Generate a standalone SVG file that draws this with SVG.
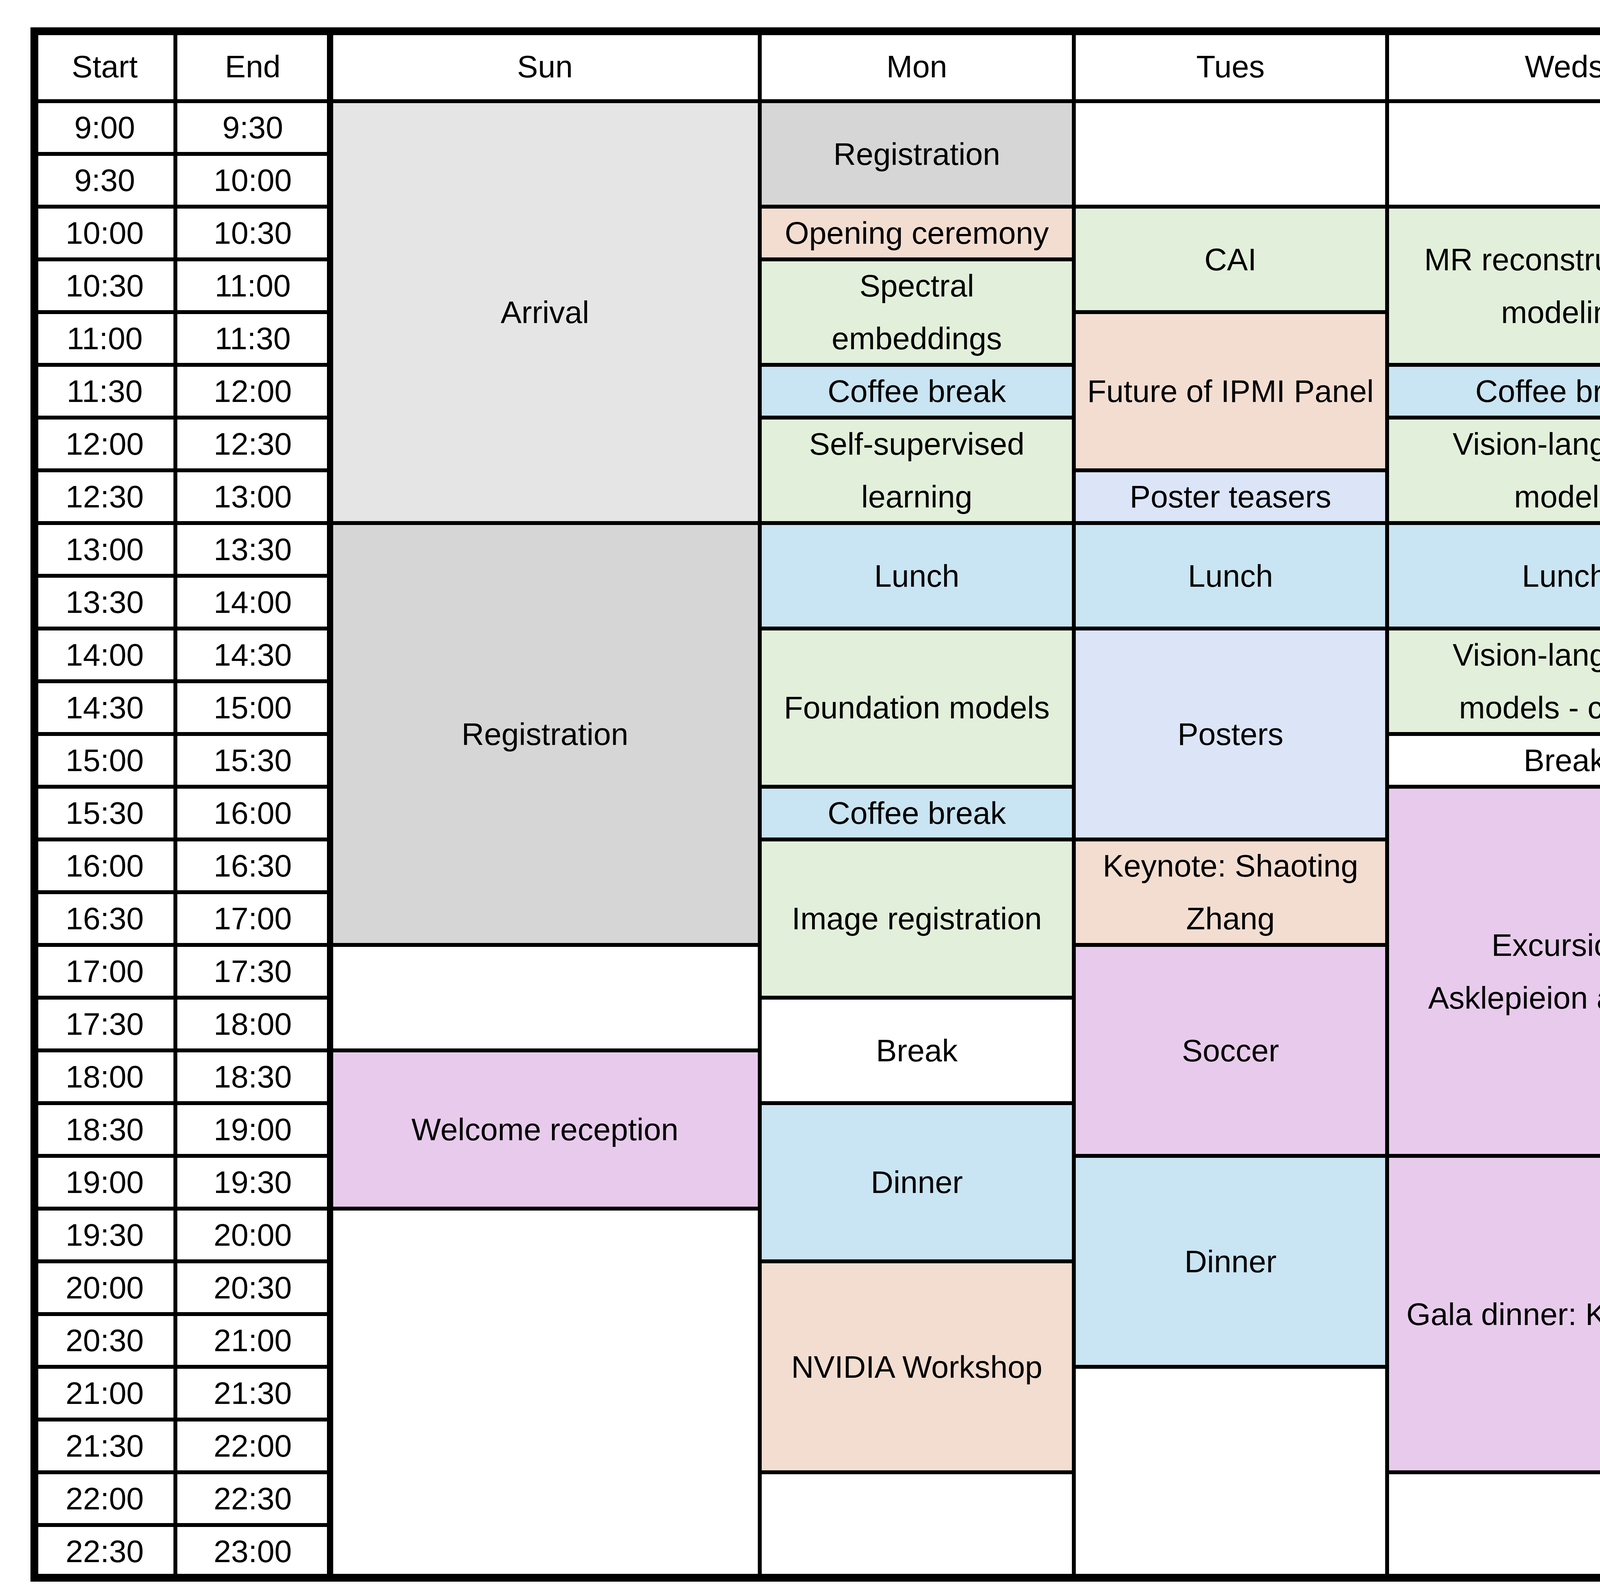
<svg xmlns="http://www.w3.org/2000/svg" width="6083" height="4055" viewBox="0 0 6083 4055">
<style>
rect{stroke:#000;stroke-width:10}
text{font-family:"Liberation Sans Narrow","Liberation Sans",Arial,sans-serif;font-size:80px;text-anchor:middle;dominant-baseline:central;fill:#000}
.w{fill:#fff}.g1{fill:#e5e5e5}.g2{fill:#d6d6d6}.gr{fill:#e2efda}.bl{fill:#c9e4f2}.pe{fill:#f3ddd1}.la{fill:#dce5f7}.pu{fill:#e8cbec}
</style>
<rect x="0" y="0" width="6083" height="4055" fill="#fff" style="stroke:none"/>
<g id="header">
<rect class="w" x="88" y="80" width="361" height="179"/><text x="268" y="170">Start</text>
<rect class="w" x="449" y="80" width="396" height="179"/><text x="647" y="170">End</text>
<rect class="w" x="845" y="80" width="1100" height="179"/><text x="1395" y="170">Sun</text>
<rect class="w" x="1945" y="80" width="804" height="179"/><text x="2347" y="170">Mon</text>
<rect class="w" x="2749" y="80" width="802" height="179"/><text x="3150" y="170">Tues</text>
<rect class="w" x="3551" y="80" width="909" height="179"/><text x="4005" y="170">Weds</text>
<rect class="w" x="4460" y="80" width="805" height="179"/><text x="4862" y="170">Thurs</text>
<rect class="w" x="5265" y="80" width="797" height="179"/><text x="5663" y="170">Fri</text>
</g>
<g id="times">
<path d="M88 394H845M88 529H845M88 664H845M88 799H845M88 934H845M88 1069H845M88 1204H845M88 1339H845M88 1474H845M88 1609H845M88 1744H845M88 1879H845M88 2014H845M88 2149H845M88 2284H845M88 2419H845M88 2554H845M88 2689H845M88 2824H845M88 2959H845M88 3094H845M88 3229H845M88 3364H845M88 3499H845M88 3634H845M88 3769H845M88 3904H845M449 259V4039" stroke="#000" stroke-width="10" fill="none"/>
<text x="268" y="326.5">9:00</text><text x="647" y="326.5">9:30</text>
<text x="268" y="461.5">9:30</text><text x="647" y="461.5">10:00</text>
<text x="268" y="596.5">10:00</text><text x="647" y="596.5">10:30</text>
<text x="268" y="731.5">10:30</text><text x="647" y="731.5">11:00</text>
<text x="268" y="866.5">11:00</text><text x="647" y="866.5">11:30</text>
<text x="268" y="1001.5">11:30</text><text x="647" y="1001.5">12:00</text>
<text x="268" y="1136.5">12:00</text><text x="647" y="1136.5">12:30</text>
<text x="268" y="1271.5">12:30</text><text x="647" y="1271.5">13:00</text>
<text x="268" y="1406.5">13:00</text><text x="647" y="1406.5">13:30</text>
<text x="268" y="1541.5">13:30</text><text x="647" y="1541.5">14:00</text>
<text x="268" y="1676.5">14:00</text><text x="647" y="1676.5">14:30</text>
<text x="268" y="1811.5">14:30</text><text x="647" y="1811.5">15:00</text>
<text x="268" y="1946.5">15:00</text><text x="647" y="1946.5">15:30</text>
<text x="268" y="2081.5">15:30</text><text x="647" y="2081.5">16:00</text>
<text x="268" y="2216.5">16:00</text><text x="647" y="2216.5">16:30</text>
<text x="268" y="2351.5">16:30</text><text x="647" y="2351.5">17:00</text>
<text x="268" y="2486.5">17:00</text><text x="647" y="2486.5">17:30</text>
<text x="268" y="2621.5">17:30</text><text x="647" y="2621.5">18:00</text>
<text x="268" y="2756.5">18:00</text><text x="647" y="2756.5">18:30</text>
<text x="268" y="2891.5">18:30</text><text x="647" y="2891.5">19:00</text>
<text x="268" y="3026.5">19:00</text><text x="647" y="3026.5">19:30</text>
<text x="268" y="3161.5">19:30</text><text x="647" y="3161.5">20:00</text>
<text x="268" y="3296.5">20:00</text><text x="647" y="3296.5">20:30</text>
<text x="268" y="3431.5">20:30</text><text x="647" y="3431.5">21:00</text>
<text x="268" y="3566.5">21:00</text><text x="647" y="3566.5">21:30</text>
<text x="268" y="3701.5">21:30</text><text x="647" y="3701.5">22:00</text>
<text x="268" y="3836.5">22:00</text><text x="647" y="3836.5">22:30</text>
<text x="268" y="3971.5">22:30</text><text x="647" y="3971.5">23:00</text>
</g>
<g id="sun">
<rect class="g1" x="845" y="259" width="1100" height="1080"/><text x="1395" y="799">Arrival</text>
<rect class="g2" x="845" y="1339" width="1100" height="1080"/><text x="1395" y="1879">Registration</text>
<rect class="w" x="845" y="2419" width="1100" height="270"/>
<rect class="pu" x="845" y="2689" width="1100" height="405"/><text x="1395" y="2891.5">Welcome reception</text>
<rect class="w" x="845" y="3094" width="1100" height="945"/>
</g>
<g id="mon">
<rect class="g2" x="1945" y="259" width="804" height="270"/><text x="2347" y="394">Registration</text>
<rect class="pe" x="1945" y="529" width="804" height="135"/><text x="2347" y="596.5">Opening ceremony</text>
<rect class="gr" x="1945" y="664" width="804" height="270"/><text x="2347" y="731.5">Spectral</text><text x="2347" y="866.5">embeddings</text>
<rect class="bl" x="1945" y="934" width="804" height="135"/><text x="2347" y="1001.5">Coffee break</text>
<rect class="gr" x="1945" y="1069" width="804" height="270"/><text x="2347" y="1136.5">Self-supervised</text><text x="2347" y="1271.5">learning</text>
<rect class="bl" x="1945" y="1339" width="804" height="270"/><text x="2347" y="1474">Lunch</text>
<rect class="gr" x="1945" y="1609" width="804" height="405"/><text x="2347" y="1811.5">Foundation models</text>
<rect class="bl" x="1945" y="2014" width="804" height="135"/><text x="2347" y="2081.5">Coffee break</text>
<rect class="gr" x="1945" y="2149" width="804" height="405"/><text x="2347" y="2351.5">Image registration</text>
<rect class="w" x="1945" y="2554" width="804" height="270"/><text x="2347" y="2689">Break</text>
<rect class="bl" x="1945" y="2824" width="804" height="405"/><text x="2347" y="3026.5">Dinner</text>
<rect class="pe" x="1945" y="3229" width="804" height="540"/><text x="2347" y="3499">NVIDIA Workshop</text>
<rect class="w" x="1945" y="3769" width="804" height="270"/>
</g>
<g id="tues">
<rect class="w" x="2749" y="259" width="802" height="270"/>
<rect class="gr" x="2749" y="529" width="802" height="270"/><text x="3150" y="664">CAI</text>
<rect class="pe" x="2749" y="799" width="802" height="405"/><text x="3150" y="1001.5">Future of IPMI Panel</text>
<rect class="la" x="2749" y="1204" width="802" height="135"/><text x="3150" y="1271.5">Poster teasers</text>
<rect class="bl" x="2749" y="1339" width="802" height="270"/><text x="3150" y="1474">Lunch</text>
<rect class="la" x="2749" y="1609" width="802" height="540"/><text x="3150" y="1879">Posters</text>
<rect class="pe" x="2749" y="2149" width="802" height="270"/><text x="3150" y="2216.5">Keynote: Shaoting</text><text x="3150" y="2351.5">Zhang</text>
<rect class="pu" x="2749" y="2419" width="802" height="540"/><text x="3150" y="2689">Soccer</text>
<rect class="bl" x="2749" y="2959" width="802" height="540"/><text x="3150" y="3229">Dinner</text>
<rect class="w" x="2749" y="3499" width="802" height="540"/>
</g>
<g id="weds">
<rect class="w" x="3551" y="259" width="909" height="270"/>
<rect class="gr" x="3551" y="529" width="909" height="405"/><text x="4005" y="664">MR reconstruction +</text><text x="4005" y="799">modeling</text>
<rect class="bl" x="3551" y="934" width="909" height="135"/><text x="4005" y="1001.5">Coffee break</text>
<rect class="gr" x="3551" y="1069" width="909" height="270"/><text x="4005" y="1136.5">Vision-language</text><text x="4005" y="1271.5">models</text>
<rect class="bl" x="3551" y="1339" width="909" height="270"/><text x="4005" y="1474">Lunch</text>
<rect class="gr" x="3551" y="1609" width="909" height="270"/><text x="4005" y="1676.5">Vision-language</text><text x="4005" y="1811.5">models - cont'd</text>
<rect class="w" x="3551" y="1879" width="909" height="135"/><text x="4005" y="1946.5">Break</text>
<rect class="pu" x="3551" y="2014" width="909" height="945"/><text x="4005" y="2419">Excursion:</text><text x="4005" y="2554">Asklepieion and Zia</text>
<rect class="pu" x="3551" y="2959" width="909" height="810"/><text x="4005" y="3364">Gala dinner: Kalymnos</text>
<rect class="w" x="3551" y="3769" width="909" height="270"/>
</g>
<g id="thurs">
<rect class="w" x="4460" y="259" width="805" height="270"/>
<rect class="gr" x="4460" y="529" width="805" height="270"/><text x="4862" y="664">Diffusion models</text>
<rect class="bl" x="4460" y="799" width="805" height="135"/><text x="4862" y="866.5">Coffee break</text>
<rect class="gr" x="4460" y="934" width="805" height="270"/><text x="4862" y="1069">Neuroimaging</text>
<rect class="la" x="4460" y="1204" width="805" height="135"/><text x="4862" y="1271.5">Poster teasers</text>
<rect class="bl" x="4460" y="1339" width="805" height="270"/><text x="4862" y="1474">Lunch</text>
<rect class="la" x="4460" y="1609" width="805" height="540"/><text x="4862" y="1879">Posters</text>
<rect class="pe" x="4460" y="2149" width="805" height="270"/><text x="4862" y="2284">Keynote: Leon Axel</text>
<rect class="w" x="4460" y="2419" width="805" height="540"/><text x="4862" y="2689">Break</text>
<rect class="bl" x="4460" y="2959" width="805" height="540"/><text x="4862" y="3229">Dinner</text>
<rect class="pu" x="4460" y="3499" width="805" height="540"/><text x="4862" y="3634">Goodbye party at</text><text x="4862" y="3769">Red Sky Bar (until</text><text x="4862" y="3904">1am)</text>
</g>
<g id="fri">
<rect class="w" x="5265" y="259" width="797" height="270"/>
<rect class="gr" x="5265" y="529" width="797" height="270"/><text x="5663" y="596.5">Collaborative +</text><text x="5663" y="731.5">unsupervised</text>
<rect class="gr" x="5265" y="799" width="797" height="270"/><text x="5663" y="934">Disease modeling</text>
<rect class="pe" x="5265" y="1069" width="797" height="270"/><text x="5663" y="1204">Closing + awards</text>
<rect class="bl" x="5265" y="1339" width="797" height="270"/><text x="5663" y="1474">Lunch</text>
<rect class="g1" x="5265" y="1609" width="797" height="2430"/><text x="5663" y="2824">Departure</text>
</g>
<g id="frame">
<rect x="88" y="80" width="5974" height="3959" fill="none" style="stroke-width:20"/>
<path d="M845 80V4039" stroke="#000" stroke-width="16"/>
</g>
</svg>
